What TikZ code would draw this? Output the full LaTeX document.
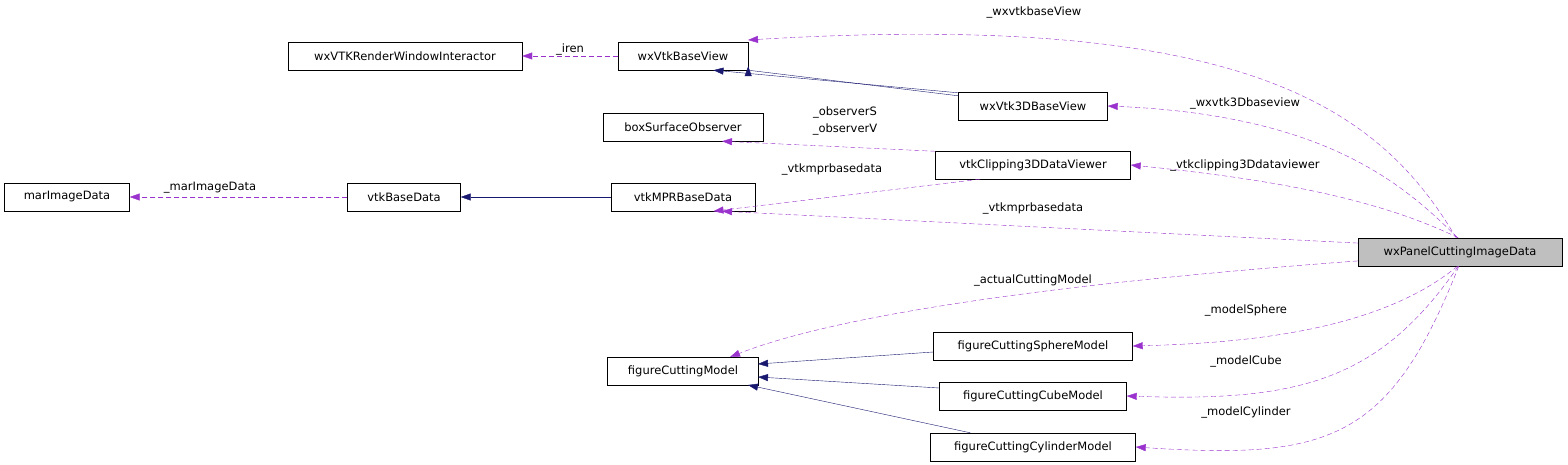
\documentclass[tikz,border=0pt]{standalone}
\usepackage{fontspec}
\setmainfont{DejaVu Sans}
\usetikzlibrary{arrows.meta}
\definecolor{dpurple}{HTML}{9A32CD}
\definecolor{dnavy}{HTML}{191970}
\begin{document}
\begin{tikzpicture}[x=1pt,y=-1pt,
 box/.style={draw=black,fill=white,minimum height=28pt,inner xsep=0pt,font=\fontsize{11.5}{13}\selectfont},
 use/.style={draw=dpurple,dashed,dash pattern=on 5pt off 3pt,-{Triangle[length=10pt,width=7pt,fill=dpurple]}},
 inh/.style={draw=dnavy,-{Triangle[length=10pt,width=7pt,fill=dnavy]}},
 lab/.style={font=\fontsize{11.5}{13}\selectfont,inner sep=1pt}]
\useasboundingbox (0,0) rectangle (1568,465);
\node[box,minimum width=234pt] (rwi) at (405,56) {wxVTKRenderWindowInteractor};
\node[box,minimum width=130pt] (bv) at (683,56) {wxVtkBaseView};
\node[box,minimum width=149pt] (v3d) at (1033,106) {wxVtk3DBaseView};
\node[box,minimum width=160pt] (bso) at (683,127) {boxSurfaceObserver};
\node[box,minimum width=195pt] (clip) at (1033,165) {vtkClipping3DDataViewer};
\node[box,minimum width=125pt] (mid) at (67,197) {marImageData};
\node[box,minimum width=113pt] (bd) at (404,197) {vtkBaseData};
\node[box,minimum width=144pt] (mpr) at (683,197) {vtkMPRBaseData};
\node[box,minimum width=204pt,fill=black!25] (p) at (1460,252) {wxPanelCuttingImageData};
\node[box,minimum width=151pt] (fcm) at (683,371) {figureCuttingModel};
\node[box,minimum width=199pt] (sph) at (1033,346) {figureCuttingSphereModel};
\node[box,minimum width=187pt] (cub) at (1033,396) {figureCuttingCubeModel};
\node[box,minimum width=205pt] (cyl) at (1033,447) {figureCuttingCylinderModel};

\draw[use] (bv) -- node[lab,above]{\_iren} (rwi);
\draw[inh] (v3d.north west) ++(0,4) -- (bv.south east) ++(0,-4);
\draw[inh] (v3d.170) -- (bv.-25);
\draw[use] (p.105) .. controls (1380,110) and (1250,10) .. (748,40);
\node[lab] at (1034,12) {\_wxvtkbaseView};
\draw[use] (p.100) .. controls (1400,180) and (1320,115) .. (v3d.east);
\node[lab] at (1245,103) {\_wxvtk3Dbaseview};
\draw[use] (clip.172) -- (bso.-20);
\node[lab] at (845,112) {\_observerS};
\node[lab] at (845,129) {\_observerV};
\draw[use] (p.97) .. controls (1380,200) and (1280,180) .. (clip.east);
\node[lab] at (1245,165) {\_vtkclipping3Ddataviewer};
\draw[use] (clip.-165) -- (mpr.-25);
\node[lab] at (832,169) {\_vtkmprbasedata};
\draw[inh] (mpr) -- (bd);
\draw[use] (bd) -- (mid);
\node[lab] at (210,188) {\_marImageData};
\draw[use] (p.175) -- (mpr.-20);
\node[lab] at (1033,208) {\_vtkmprbasedata};
\draw[use] (p.-175) .. controls (1100,280) and (850,310) .. (730,357);
\node[lab] at (1033,280) {\_actualCuttingModel};
\draw[use] (p.-100) .. controls (1380,330) and (1250,343) .. (sph.east);
\node[lab] at (1246,310) {\_modelSphere};
\draw[use] (p.-97) .. controls (1380,380) and (1300,402) .. (cub.east);
\node[lab] at (1246,361) {\_modelCube};
\draw[use] (p.-95) .. controls (1390,440) and (1330,460) .. (cyl.east);
\node[lab] at (1246,412) {\_modelCylinder};
\draw[inh] (sph.west) ++(0,6) -- (758,364);
\draw[inh] (cub.west) ++(0,-8) -- (758,377);
\draw[inh] (cyl.north west) ++(40,0) -- (748,385);
\end{tikzpicture}
\end{document}
